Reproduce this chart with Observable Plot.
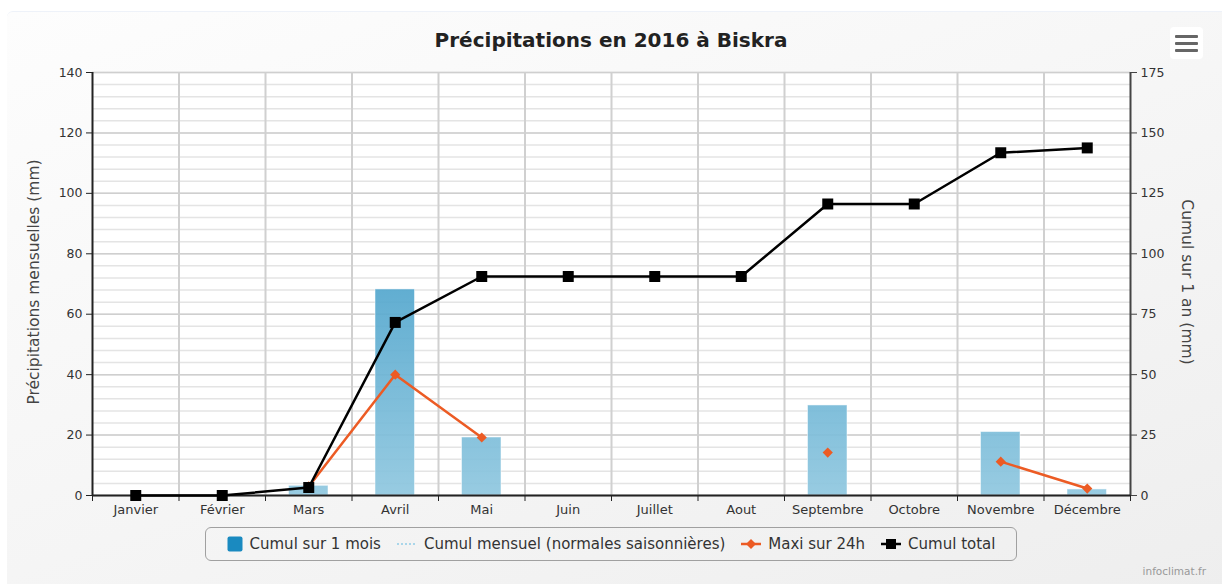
<!DOCTYPE html>
<html lang="fr">
<head>
<meta charset="utf-8">
<title>Précipitations en 2016 à Biskra</title>
<script src="https://cdn.jsdelivr.net/npm/d3@7"></script>
<script src="https://cdn.jsdelivr.net/npm/@observablehq/plot@0.6"></script>
<style>
  html, body { margin: 0; padding: 0; background: #ffffff; }
  #page { position: relative; width: 1222px; height: 584px; overflow: hidden; font-family: "DejaVu Sans", Verdana, sans-serif; }
  #panel {
    position: absolute; left: 7px; top: 11px; width: 1222px; height: 580px;
    background: linear-gradient(160deg, #fdfdfd 0%, #f5f5f5 55%, #eeeeee 100%);
    border-top: 1px solid #eef2f9; border-radius: 6px;
  }
  #title {
    position: absolute; left: 0; width: 1222px; top: 28px; text-align: center;
    font-size: 20px; font-weight: bold; color: #222;
  }
  #menu {
    position: absolute; left: 1170px; top: 27px; width: 33px; height: 32px;
    background: #ffffff; border-radius: 4px;
  }
  #menu span { position: absolute; left: 5px; width: 23px; height: 3px; background: #666; border-radius: 1px; }
  #chart { position: absolute; left: 0; top: 60px; }
  .ytitle { position: absolute; font-size: 15.5px; color: #444; white-space: nowrap; }
  #ytitle-left { left: 34px; top: 282px; transform: translate(-50%, -50%) rotate(-90deg); }
  #ytitle-right { left: 1187px; top: 282px; transform: translate(-50%, -50%) rotate(90deg); }
  #legend {
    position: absolute; left: 205px; top: 527px; width: 812px; height: 34px;
    border: 1px solid #a0a0a0; border-radius: 6px; box-sizing: border-box;
    display: flex; align-items: center; justify-content: center; gap: 16px;
    font-size: 15px; color: #333;
  }
  #legend .item { display: flex; align-items: center; gap: 7px; white-space: nowrap; }
  #credit { position: absolute; right: 16px; top: 565px; font-size: 10.5px; color: #999; }
</style>
</head>
<body>
<div id="page">
  <div id="panel"></div>
  <div id="title">Précipitations en 2016 à Biskra</div>
  <div id="menu"><span style="top:8px"></span><span style="top:15px"></span><span style="top:22px"></span></div>
  <div id="chart"></div>
  <div class="ytitle" id="ytitle-left">Précipitations mensuelles (mm)</div>
  <div class="ytitle" id="ytitle-right">Cumul sur 1 an (mm)</div>
  <div id="legend">
    <div class="item"><svg width="16" height="16"><rect x="0.5" y="0.5" width="15" height="15" rx="2" fill="#1a8ac0"/></svg>Cumul sur 1 mois</div>
    <div class="item"><svg width="20" height="16"><line x1="0" x2="20" y1="8" y2="8" stroke="#a9d6ea" stroke-width="2" stroke-dasharray="2,2"/></svg>Cumul mensuel (normales saisonnières)</div>
    <div class="item"><svg width="20" height="16"><line x1="0" x2="20" y1="8" y2="8" stroke="#ec5b24" stroke-width="2.5"/><path d="M10 3 L15 8 L10 13 L5 8 Z" fill="#ec5b24"/></svg>Maxi sur 24h</div>
    <div class="item"><svg width="20" height="16"><line x1="0" x2="20" y1="8" y2="8" stroke="#000" stroke-width="2.5"/><rect x="5" y="3" width="10" height="10" fill="#000"/></svg>Cumul total</div>
  </div>
  <div id="credit">infoclimat.fr</div>
</div>
<script>
// Mois de l'année
const months = ["Janvier", "Février", "Mars", "Avril", "Mai", "Juin", "Juillet", "Aout", "Septembre", "Octobre", "Novembre", "Décembre"];
// Cumul sur 1 mois (mm)
const monthlyTotal = [0, 0, 3.2, 68.2, 19.2, 0, 0, 0, 29.8, 0, 21, 2];
// Maxi sur 24h (mm), null quand il n'a pas plu
const max24h = [null, null, 3, 40, 19.2, null, null, null, 14.2, null, 11.2, 2.3];
// Cumul total depuis le 1er janvier (mm), axe de droite
const yearCumul = [0, 0, 3.3, 71.6, 90.6, 90.6, 90.6, 90.6, 120.6, 120.6, 141.8, 143.8];

// Graduations des deux axes verticaux
const leftTicks = [0, 20, 40, 60, 80, 100, 120, 140];
const rightTicks = [0, 25, 50, 75, 100, 125, 150, 175];
const minorTicks = [0, 4, 8, 12, 16, 20, 24, 28, 32, 36, 40, 44, 48, 52, 56, 60, 64, 68, 72, 76, 80, 84, 88, 92, 96, 100, 104, 108, 112, 116, 120, 124, 128, 132, 136, 140];

const leftMax = 140, rightMax = 175;
const toLeft = v => v * leftMax / rightMax;   // axe de droite ramené sur l'échelle de gauche

const rows = months.map((m, i) => ({
  idx: i, month: m, monthly: monthlyTotal[i], maxi: max24h[i], cumul: yearCumul[i]
}));
const boundaries = d3.range(0, months.length + 1);
const centers = months.map((m, i) => i + 0.5);

const chart = Plot.plot({
  width: 1222,
  height: 460,
  marginTop: 12,
  marginBottom: 25,
  marginLeft: 92,
  marginRight: 92,
  style: { background: "transparent", fontFamily: "DejaVu Sans, Verdana, sans-serif", fontSize: "12.5px", color: "#333", overflow: "visible" },
  x: { type: "linear", domain: [0, months.length], axis: null },
  y: { domain: [0, leftMax], axis: null },
  marks: [
    Plot.frame({ fill: "#ffffff", stroke: null }),
    // grille horizontale fine puis principale
    Plot.ruleY(minorTicks, { stroke: "#e4e4e4", strokeWidth: 1.5 }),
    Plot.ruleY(leftTicks, { stroke: "#cfcfcf", strokeWidth: 1.5 }),
    // séparations entre les mois
    Plot.ruleX(boundaries.slice(1, -1), { stroke: "#d0d0d0", strokeWidth: 2 }),
    // cumul mensuel
    Plot.rectY(rows.filter(d => d.monthly > 0), {
      x1: "idx", x2: d => d.idx + 1, y: "monthly",
      insetLeft: 23.5, insetRight: 23.5,
      fill: "url(#barGrad)", fillOpacity: 0.92, stroke: "#ffffff", strokeOpacity: 0.5, strokeWidth: 1
    }),
    // axes
    Plot.ruleX([0], { stroke: "#222", strokeWidth: 2 }),
    Plot.ruleX([months.length], { stroke: "#444", strokeWidth: 2 }),
    Plot.ruleY([0], { stroke: "#222", strokeWidth: 2 }),
    Plot.axisY(leftTicks, { anchor: "left", tickSize: 6, tickPadding: 4, label: null, stroke: "#222" }),
    Plot.axisY(rightTicks.map(toLeft), { anchor: "right", tickSize: 6, tickPadding: 4, label: null, stroke: "#444",
      tickFormat: d => String(Math.round(d * rightMax / leftMax)) }),
    Plot.axisX(boundaries, { anchor: "bottom", tickSize: 6, tickFormat: () => "", label: null, stroke: "#222" }),
    Plot.axisX(centers, { anchor: "bottom", tickSize: 0, tickPadding: 9, label: null,
      tickFormat: d => months[Math.floor(d)], fontSize: 13 }),
    // maxi sur 24h
    Plot.line(rows, { x: d => d.idx + 0.5, y: "maxi", stroke: "#ec5b24", strokeWidth: 2.5 }),
    Plot.dot(rows, { x: d => d.idx + 0.5, y: "maxi", symbol: "diamond2", r: 4.6, fill: "#ec5b24", stroke: null }),
    // cumul total (axe de droite)
    Plot.line(rows, { x: d => d.idx + 0.5, y: d => toLeft(d.cumul), stroke: "#000", strokeWidth: 2.5 }),
    Plot.dot(rows, { x: d => d.idx + 0.5, y: d => toLeft(d.cumul), symbol: "square", r: 6.2, fill: "#000", stroke: null })
  ]
});

// dégradé vertical des barres, calé sur la hauteur de la zone de tracé
const yScale = chart.scale("y");
const defs = d3.select(chart).insert("defs", ":first-child");
const grad = defs.append("linearGradient")
  .attr("id", "barGrad")
  .attr("gradientUnits", "userSpaceOnUse")
  .attr("x1", 0).attr("x2", 0)
  .attr("y1", yScale.apply(leftMax)).attr("y2", yScale.apply(0));
grad.append("stop").attr("offset", "0%").attr("stop-color", "#1585bb");
grad.append("stop").attr("offset", "100%").attr("stop-color", "#8fc7df");

document.getElementById("chart").appendChild(chart);
</script>
</body>
</html>
